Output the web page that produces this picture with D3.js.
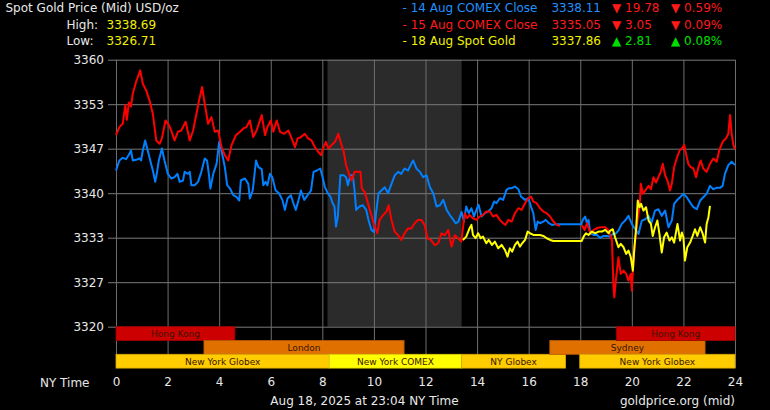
<!DOCTYPE html>
<html><head><meta charset="utf-8">
<script src="https://cdn.jsdelivr.net/npm/d3@7"></script>
<style>
html,body{margin:0;padding:0;background:#000;}
svg{display:block;font-family:"DejaVu Sans",Verdana,sans-serif;}
</style></head>
<body><svg id="chart" width="770" height="410"></svg>
<script>
// ---------- data ----------
const hourTicks = [0,2,4,6,8,10,12,14,16,18,20,22,24];
const priceTicks = [3320, 3326.667, 3333.333, 3340, 3346.667, 3353.333, 3360];

const legendLabels = ["- 14 Aug COMEX Close", "- 15 Aug COMEX Close", "- 18 Aug Spot Gold"];
const legendPrices = ["3338.11", "3335.05", "3337.86"];
const legendChanges = ["19.78", "3.05", "2.81"];
const legendPercents = ["0.59%", "0.09%", "0.08%"];
const legendDirections = ["down", "down", "up"];
const highLow = ["3338.69", "3326.71"];

// gray shaded COMEX hours
const comexBand = [8.2, 13.4];

const sessionLabels = ["Hong Kong","London","New York Globex","New York COMEX","NY Globex","Sydney","Hong Kong","New York Globex"];
const sessionStart  = [0, 3.41, 0, 8.27, 13.4, 16.82, 19.4, 17.98];
const sessionEnd    = [4.61, 11.17, 8.27, 13.4, 17.43, 22.84, 24, 24];
const sessionRow    = [0, 1, 2, 2, 2, 1, 0, 2];

const close14Aug = [[0,3343.4],[0.13,3344.9],[0.26,3345.3],[0.39,3345.1],[0.52,3345.9],[0.58,3346.4],[0.65,3344.9],[0.78,3345.0],[0.91,3345.2],[0.97,3344.9],[1.04,3346.4],[1.13,3347.9],[1.23,3346.4],[1.36,3344.4],[1.43,3343.4],[1.52,3341.7],[1.58,3342.9],[1.66,3344.9],[1.78,3346.7],[1.88,3344.9],[2.01,3342.9],[2.14,3342.2],[2.27,3342.4],[2.38,3342.9],[2.47,3341.7],[2.6,3341.9],[2.66,3343.2],[2.79,3342.9],[2.86,3343.2],[2.92,3341.2],[3.05,3341.2],[3.18,3341.7],[3.31,3343.2],[3.44,3345.2],[3.53,3344.9],[3.6,3342.9],[3.66,3340.7],[3.77,3342.9],[3.9,3344.4],[4.0,3347.7],[4.09,3346.4],[4.22,3343.9],[4.31,3341.2],[4.42,3340.7],[4.55,3339.7],[4.68,3339.4],[4.78,3338.9],[4.84,3341.9],[5.0,3342.2],[5.13,3341.4],[5.19,3339.2],[5.3,3340.4],[5.43,3344.9],[5.52,3343.9],[5.65,3343.6],[5.71,3341.2],[5.8,3341.7],[5.87,3341.2],[5.97,3342.9],[6.06,3342.4],[6.19,3340.4],[6.32,3340.0],[6.45,3339.0],[6.55,3337.5],[6.65,3339.2],[6.78,3339.7],[6.88,3338.5],[6.97,3337.5],[7.06,3338.7],[7.17,3340.4],[7.3,3339.0],[7.43,3339.7],[7.56,3340.4],[7.66,3343.2],[7.79,3343.4],[7.92,3343.7],[8.01,3342.4],[8.1,3340.9],[8.21,3340.0],[8.31,3339.5],[8.4,3338.5],[8.47,3338.0],[8.53,3335.0],[8.6,3336.5],[8.7,3342.7],[8.83,3342.7],[8.92,3342.4],[8.99,3341.2],[9.09,3342.7],[9.18,3342.7],[9.25,3340.4],[9.31,3337.5],[9.44,3338.0],[9.57,3338.2],[9.7,3337.5],[9.79,3336.0],[9.9,3334.5],[10.0,3334.2],[10.09,3337.2],[10.18,3340.0],[10.29,3340.4],[10.42,3340.9],[10.55,3340.0],[10.68,3341.4],[10.81,3342.7],[10.94,3343.2],[11.06,3342.9],[11.19,3343.7],[11.32,3343.4],[11.45,3344.4],[11.52,3344.9],[11.65,3343.7],[11.78,3343.2],[11.91,3342.4],[12.04,3342.7],[12.17,3340.9],[12.3,3340.0],[12.43,3338.0],[12.56,3338.2],[12.69,3339.0],[12.82,3337.5],[12.95,3336.7],[13.08,3336.0],[13.17,3335.5],[13.27,3335.7],[13.4,3337.2],[13.49,3335.75],[13.58,3338.0],[13.68,3337.0],[13.78,3337.75],[13.88,3336.5],[14.0,3337.75],[14.06,3338.25],[14.17,3336.5],[14.3,3337.0],[14.43,3337.25],[14.56,3337.75],[14.66,3338.75],[14.75,3338.5],[14.88,3339.25],[15.01,3339.0],[15.14,3340.5],[15.23,3340.75],[15.34,3340.75],[15.47,3341.0],[15.6,3340.6],[15.7,3339.5],[15.86,3339.0],[15.99,3339.25],[16.09,3338.0],[16.18,3337.0],[16.27,3334.5],[16.35,3335.75],[16.44,3335.5],[16.57,3335.75],[16.66,3336.0],[16.79,3335.5],[16.9,3335.25],[17.03,3335.35],[18.04,3335.35],[18.1,3336.0],[18.19,3336.5],[18.26,3335.5],[18.32,3336.0],[18.39,3334.0],[18.52,3333.75],[18.65,3333.75],[18.77,3333.3],[18.9,3333.6],[19.04,3333.6],[19.16,3333.5],[19.26,3333.9],[19.36,3333.9],[19.48,3334.4],[19.61,3335.4],[19.74,3335.9],[19.87,3336.6],[20.0,3335.4],[20.13,3334.6],[20.26,3333.9],[20.32,3334.9],[20.39,3335.9],[20.52,3336.1],[20.65,3336.6],[20.77,3335.6],[20.9,3337.4],[21.03,3337.6],[21.16,3336.6],[21.29,3337.4],[21.42,3334.9],[21.55,3335.9],[21.64,3338.4],[21.74,3338.9],[21.87,3339.4],[22.0,3339.9],[22.13,3339.4],[22.26,3338.6],[22.39,3337.9],[22.52,3337.6],[22.65,3338.9],[22.77,3339.4],[22.9,3339.9],[23.03,3341.1],[23.16,3340.6],[23.29,3340.8],[23.42,3340.8],[23.52,3341.1],[23.61,3342.9],[23.74,3344.2],[23.87,3344.7],[24.0,3344.2]];

const close15Aug = [[0,3348.7],[0.13,3349.9],[0.26,3350.4],[0.36,3353.2],[0.42,3351.0],[0.5,3353.6],[0.58,3353.0],[0.65,3354.9],[0.78,3356.7],[0.94,3358.4],[1.04,3356.4],[1.17,3355.4],[1.3,3353.9],[1.43,3351.9],[1.56,3347.9],[1.69,3347.4],[1.78,3348.2],[1.92,3350.9],[2.05,3350.2],[2.14,3349.4],[2.27,3347.9],[2.4,3349.2],[2.53,3349.4],[2.7,3350.7],[2.86,3347.9],[2.99,3349.4],[3.12,3351.9],[3.22,3353.9],[3.34,3355.9],[3.44,3353.4],[3.57,3350.4],[3.7,3351.4],[3.83,3349.2],[3.96,3349.4],[4.09,3346.9],[4.22,3345.7],[4.35,3344.9],[4.48,3347.2],[4.65,3348.7],[4.81,3349.2],[4.94,3349.7],[5.06,3349.9],[5.19,3350.9],[5.32,3348.4],[5.45,3349.4],[5.65,3351.7],[5.78,3348.7],[5.87,3349.9],[6.0,3350.9],[6.1,3349.2],[6.23,3350.9],[6.36,3349.2],[6.52,3348.9],[6.68,3349.4],[6.81,3348.2],[6.94,3346.9],[7.04,3348.2],[7.17,3348.4],[7.32,3348.9],[7.45,3348.2],[7.58,3347.9],[7.71,3346.9],[7.84,3346.2],[7.95,3345.7],[8.05,3346.9],[8.14,3347.7],[8.23,3346.7],[8.36,3347.2],[8.49,3347.7],[8.62,3348.9],[8.73,3347.4],[8.83,3346.2],[8.92,3344.2],[9.05,3342.7],[9.14,3341.9],[9.25,3343.2],[9.38,3343.2],[9.48,3343.2],[9.53,3340.7],[9.64,3340.2],[9.74,3338.9],[9.84,3337.5],[9.92,3336.5],[10.03,3335.0],[10.13,3334.0],[10.22,3336.0],[10.35,3336.7],[10.48,3337.2],[10.57,3338.2],[10.68,3336.0],[10.81,3334.2],[10.94,3333.7],[11.06,3333.0],[11.19,3334.0],[11.32,3334.7],[11.45,3334.7],[11.58,3335.5],[11.71,3336.0],[11.84,3336.0],[11.97,3335.2],[12.08,3333.2],[12.21,3333.0],[12.36,3332.2],[12.49,3332.5],[12.62,3334.0],[12.75,3333.7],[12.88,3334.5],[13.01,3332.0],[13.14,3333.7],[13.27,3333.2],[13.39,3332.75],[13.52,3337.0],[13.62,3336.25],[13.71,3336.75],[13.84,3336.25],[13.97,3336.0],[14.1,3336.5],[14.23,3336.75],[14.36,3337.25],[14.49,3337.25],[14.62,3336.5],[14.75,3336.75],[14.88,3336.0],[15.01,3335.5],[15.1,3335.25],[15.21,3336.0],[15.34,3335.75],[15.47,3337.0],[15.6,3337.75],[15.73,3337.5],[15.86,3338.5],[15.99,3339.25],[16.09,3339.5],[16.18,3338.75],[16.31,3338.5],[16.44,3337.75],[16.57,3337.25],[16.7,3337.0],[16.83,3336.5],[16.96,3335.75],[17.09,3335.25],[17.22,3335.1],null,[18.06,3335.25],[18.17,3334.5],[18.26,3335.5],[18.39,3334.0],[18.52,3334.5],[18.65,3334.75],[18.77,3334.9],[18.97,3334.9],[19.1,3334.4],[19.23,3332.9],[19.29,3325.9],[19.32,3324.4],[19.38,3326.9],[19.48,3330.4],[19.57,3327.9],[19.68,3328.4],[19.78,3327.9],[19.87,3326.9],[19.96,3327.9],[20.0,3325.4],[20.06,3329.9],[20.13,3332.9],[20.22,3335.9],[20.3,3337.9],[20.35,3341.4],[20.43,3339.9],[20.52,3340.4],[20.65,3341.1],[20.74,3340.6],[20.84,3342.4],[20.94,3341.6],[21.03,3342.4],[21.12,3343.2],[21.2,3344.4],[21.29,3342.7],[21.38,3341.9],[21.48,3340.4],[21.55,3341.4],[21.64,3343.9],[21.74,3345.2],[21.85,3346.4],[21.94,3346.7],[22.03,3347.2],[22.1,3345.9],[22.19,3344.4],[22.28,3343.9],[22.39,3343.7],[22.49,3342.4],[22.58,3343.9],[22.67,3344.9],[22.77,3343.7],[22.9,3343.2],[23.03,3344.4],[23.16,3345.2],[23.29,3344.7],[23.39,3346.4],[23.52,3347.7],[23.65,3348.2],[23.74,3348.9],[23.81,3351.7],[23.87,3348.9],[23.94,3347.2],[24.0,3346.6]];

const spot18Aug = [[13.45,3333.0],[13.58,3333.5],[13.71,3334.75],[13.78,3335.25],[13.84,3333.75],[13.94,3333.25],[14.04,3334.0],[14.14,3333.25],[14.23,3333.5],[14.36,3332.5],[14.45,3333.0],[14.58,3332.25],[14.69,3332.75],[14.82,3331.75],[14.95,3332.25],[15.08,3331.5],[15.18,3330.5],[15.27,3331.75],[15.36,3331.25],[15.47,3332.25],[15.57,3332.75],[15.66,3332.0],[15.75,3332.5],[15.86,3333.0],[15.96,3334.25],[16.05,3334.0],[16.18,3333.75],[16.31,3333.75],[16.44,3333.75],[16.57,3333.6],[16.7,3333.25],[16.83,3333.0],[16.96,3332.85],[18.06,3332.85],[18.13,3333.5],[18.22,3334.0],[18.32,3333.75],[18.45,3334.25],[18.58,3334.0],[18.71,3334.25],[18.84,3334.25],[18.97,3334.5],[19.1,3334.0],[19.16,3334.4],[19.26,3334.6],[19.35,3333.4],[19.48,3331.9],[19.57,3332.4],[19.68,3331.9],[19.78,3330.9],[19.87,3331.4],[19.96,3330.4],[20.04,3328.4],[20.1,3331.9],[20.17,3334.9],[20.23,3338.9],[20.3,3337.9],[20.36,3338.4],[20.45,3337.4],[20.55,3337.9],[20.65,3335.9],[20.74,3335.4],[20.81,3333.6],[20.9,3334.9],[20.99,3335.9],[21.07,3333.9],[21.16,3331.1],[21.25,3333.4],[21.35,3334.1],[21.46,3332.9],[21.55,3333.4],[21.64,3332.6],[21.77,3335.4],[21.87,3332.9],[21.94,3334.1],[22.0,3333.4],[22.06,3329.9],[22.15,3331.9],[22.26,3332.6],[22.36,3333.6],[22.45,3334.6],[22.54,3333.6],[22.65,3334.9],[22.75,3333.9],[22.84,3332.6],[22.9,3335.4],[22.97,3336.4],[23.03,3338.1]];

// ---------- drawing ----------
const svg = d3.select("#chart");
svg.append("rect").attr("width",770).attr("height",410).attr("fill","#000");

const x = d3.scaleLinear().domain([0,24]).range([116,735]);
const y = d3.scaleLinear().domain([3320,3360]).range([326.7,59.7]);
const barTop = 326.7, rowH = 13.8, barBottom = barTop + 3*rowH;

// COMEX band
svg.append("rect")
  .attr("x", x(comexBand[0])).attr("y", y(3360))
  .attr("width", x(comexBand[1]) - x(comexBand[0]))
  .attr("height", y(3320) - y(3360))
  .attr("fill", "#2b2b2b");

// Y grid + labels
const yAxis = svg.append("g").attr("transform","translate(108,0)")
  .call(d3.axisLeft(y).tickValues(priceTicks).tickFormat(d => Math.round(d))
        .tickSize(-(735-108)).tickPadding(4));
yAxis.select(".domain").remove();
yAxis.selectAll("line").attr("stroke","#7a7a7a");
yAxis.selectAll("text").attr("fill","#e8e8e8").style("font-size","12px")
  .style("font-family","'DejaVu Sans',Verdana,sans-serif");

// X grid + labels
const xAxis = svg.append("g").attr("transform",`translate(0,${barBottom})`)
  .call(d3.axisBottom(x).tickValues(hourTicks).tickFormat(d3.format("d"))
        .tickSize(-(barBottom - y(3360))).tickPadding(9.5));
xAxis.select(".domain").remove();
xAxis.selectAll("line").attr("stroke","#6e6e6e");
xAxis.selectAll("text").attr("fill","#e8e8e8").style("font-size","12px")
  .style("font-family","'DejaVu Sans',Verdana,sans-serif");

// Session bars
const sessionColor = {"Hong Kong":"#cc0000","London":"#e07000","Sydney":"#e07000",
  "New York Globex":"#ffcc00","NY Globex":"#ffcc00","New York COMEX":"#ffff00"};
const sessionStroke = {"Hong Kong":"#a00000","London":"#b85a00","Sydney":"#b85a00",
  "New York Globex":"#d9a800","NY Globex":"#d9a800","New York COMEX":"#e0d000"};
const sessions = sessionLabels.map((l,i)=>({label:l,s:sessionStart[i],e:sessionEnd[i],r:sessionRow[i]}));
const sg = svg.append("g");
sg.selectAll("rect").data(sessions).join("rect")
  .attr("x", d => x(d.s)).attr("y", d => barTop + d.r*rowH)
  .attr("width", d => x(d.e) - x(d.s)).attr("height", rowH)
  .attr("fill", d => sessionColor[d.label])
  .attr("stroke", d => sessionStroke[d.label]).attr("stroke-width", 0.8);
sg.selectAll("text").data(sessions).join("text")
  .attr("x", d => (x(d.s)+x(d.e))/2).attr("y", d => barTop + d.r*rowH + 10.3)
  .attr("text-anchor","middle").attr("fill","#3a1500")
  .style("font-size","9px").text(d => d.label);

// Lines
const line = d3.line().defined(d => d !== null).x(d => x(d[0])).y(d => y(d[1]));
const seriesList = [[close14Aug,"#0080ff"],[close15Aug,"#ff0000"],[spot18Aug,"#ffff00"]];
seriesList.forEach(([data,color]) => {
  svg.append("path").datum(data).attr("d", line)
    .attr("fill","none").attr("stroke", color).attr("stroke-width", 2)
    .attr("stroke-linejoin","round");
});

// Header text
const hdr = svg.append("g").style("font-size","12px");
hdr.append("text").attr("x",5.5).attr("y",12).attr("fill","#e8e8e8").text("Spot Gold Price (Mid) USD/oz");
hdr.append("text").attr("x",66.5).attr("y",28.5).attr("fill","#e8e8e8").text("High:");
hdr.append("text").attr("x",106.5).attr("y",28.5).attr("fill","#f0f000").text(highLow[0]);
hdr.append("text").attr("x",66.5).attr("y",45).attr("fill","#e8e8e8").text("Low:");
hdr.append("text").attr("x",106.5).attr("y",45).attr("fill","#f0f000").text(highLow[1]);

// Legend
const legendColors = ["#2090ff","#ff1a1a","#f0f000"];
legendLabels.forEach((lab,i) => {
  const yy = 12 + i*16.5;
  const dirColor = legendDirections[i] === "down" ? "#ff1a1a" : "#00e000";
  const tri = legendDirections[i] === "down" ? "\u25BC" : "\u25B2";
  hdr.append("text").attr("x",402.5).attr("y",yy).attr("fill",legendColors[i]).text(lab);
  hdr.append("text").attr("x",601).attr("y",yy).attr("text-anchor","end").attr("fill",legendColors[i]).text(legendPrices[i]);
  hdr.append("text").attr("x",612).attr("y",yy).attr("fill",dirColor).text(tri + " " + legendChanges[i]);
  hdr.append("text").attr("x",671).attr("y",yy).attr("fill",dirColor).text(tri + " " + legendPercents[i]);
});

// Footer
const ftr = svg.append("g").style("font-size","12px").attr("fill","#e8e8e8");
ftr.append("text").attr("x",40).attr("y",386.5).text("NY Time");
ftr.append("text").attr("x",364.5).attr("y",404.5).attr("text-anchor","middle").text("Aug 18, 2025 at 23:04 NY Time");
ftr.append("text").attr("x",735).attr("y",404.5).attr("text-anchor","end").text("goldprice.org (mid)");
</script>
</body></html>
